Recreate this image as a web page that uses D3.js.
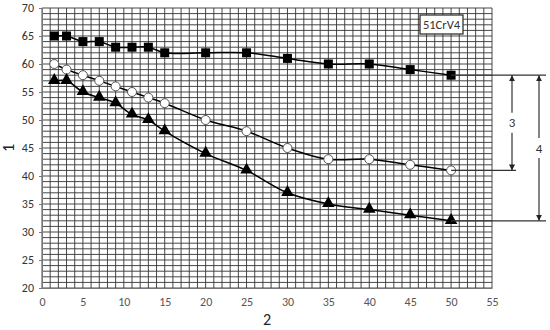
<!DOCTYPE html>
<html>
<head>
<meta charset="utf-8">
<script src="https://cdn.jsdelivr.net/npm/d3@7"></script>
<style>
  body { margin: 0; background: #fff; }
  text { font-family: Calibri, Carlito, "Open Sans", sans-serif; }
</style>
</head>
<body>
<script>
var width = 550;
var height = 330;
var margin = {top: 8, right: 58, bottom: 42, left: 42};

// data
var xValues = [1.5, 3, 5, 7, 9, 11, 13, 15, 20, 25, 30, 35, 40, 45, 50];
var squares = [65, 65, 64, 64, 63, 63, 63, 62, 62, 62, 61, 60, 60, 59, 58];
var circles = [60, 59, 58, 57, 56, 55, 54, 53, 50, 48, 45, 43, 43, 42, 41];
var triangles = [57, 57, 55, 54, 53, 51, 50, 48, 44, 41, 37, 35, 34, 33, 32];
var xTicks = [0, 5, 10, 15, 20, 25, 30, 35, 40, 45, 50, 55];
var yTicks = [20, 25, 30, 35, 40, 45, 50, 55, 60, 65, 70];
var legendText = "51CrV4";

var svg = d3.select("body").append("svg")
  .attr("width", width)
  .attr("height", height);

var x = d3.scaleLinear().domain([0, 55]).range([margin.left, width - margin.right]);
var y = d3.scaleLinear().domain([20, 70]).range([height - margin.bottom, margin.top]);

// grid, one line per unit
var grid = svg.append("g").attr("stroke", "#333").attr("stroke-width", 0.9);
grid.selectAll(".vx").data(d3.range(0, 56))
  .enter().append("line")
  .attr("x1", d => x(d)).attr("x2", d => x(d))
  .attr("y1", y(20)).attr("y2", y(70));
grid.selectAll(".hy").data(d3.range(20, 71))
  .enter().append("line")
  .attr("x1", x(0)).attr("x2", x(55))
  .attr("y1", d => y(d)).attr("y2", d => y(d));

// axes
var xAxis = svg.append("g")
  .attr("transform", "translate(0," + y(20) + ")")
  .call(d3.axisBottom(x).tickValues(xTicks).tickSize(0).tickPadding(9));
var yAxis = svg.append("g")
  .attr("transform", "translate(" + x(0) + ",0)")
  .call(d3.axisLeft(y).tickValues(yTicks).tickSize(3).tickPadding(5));
[xAxis, yAxis].forEach(function (a) {
  a.select(".domain").attr("stroke", "#777");
  a.selectAll(".tick line").attr("stroke", "#777");
  a.selectAll("text").attr("font-size", 12).attr("fill", "#555");
});
yAxis.selectAll("text").attr("fill", "#333");

svg.append("text").attr("x", x(27.5)).attr("y", 325)
  .attr("text-anchor", "middle").attr("font-size", 16).attr("fill", "#222").text("2");
svg.append("text")
  .attr("transform", "translate(14," + y(45) + ") rotate(-90)")
  .attr("text-anchor", "middle").attr("font-size", 16).attr("fill", "#222").text("1");

// series
var line = d3.line()
  .x((d, i) => x(xValues[i]))
  .y(d => y(d))
  .curve(d3.curveCatmullRom.alpha(0.5));

[squares, circles, triangles].forEach(function (s) {
  svg.append("path").datum(s)
    .attr("d", line)
    .attr("fill", "none")
    .attr("stroke", "#000")
    .attr("stroke-width", 1.5);
});

svg.selectAll(".sq").data(squares).enter().append("rect")
  .attr("x", (d, i) => x(xValues[i]) - 4.5)
  .attr("y", d => y(d) - 4.5)
  .attr("width", 9).attr("height", 9)
  .attr("fill", "#000");

svg.selectAll(".ci").data(circles).enter().append("circle")
  .attr("cx", (d, i) => x(xValues[i]))
  .attr("cy", d => y(d))
  .attr("r", 4.5)
  .attr("fill", "#fff").attr("stroke", "#555").attr("stroke-width", 1);

var tri = d3.symbol().type(d3.symbolTriangle).size(68);
svg.selectAll(".tr").data(triangles).enter().append("path")
  .attr("d", tri)
  .attr("transform", (d, i) => "translate(" + x(xValues[i]) + "," + (y(d) - 0.5) + ")")
  .attr("fill", "#000");

// legend box
var lg = svg.append("g");
lg.append("rect").attr("x", 420).attr("y", 15).attr("width", 43).attr("height", 19)
  .attr("fill", "#fff").attr("stroke", "#333").attr("stroke-width", 1.3);
lg.append("text").attr("x", 441.5).attr("y", 29).attr("text-anchor", "middle")
  .attr("font-size", 12.5).attr("fill", "#333").text(legendText);

// dimension lines on the right
var last = xValues.length - 1;
var dim = svg.append("g").attr("stroke", "#333").attr("stroke-width", 1.2);
dim.append("line").attr("x1", x(xValues[last])).attr("x2", 546)
  .attr("y1", y(squares[last])).attr("y2", y(squares[last]));
dim.append("line").attr("x1", x(xValues[last])).attr("x2", 516)
  .attr("y1", y(circles[last])).attr("y2", y(circles[last]));
dim.append("line").attr("x1", x(xValues[last])).attr("x2", 546)
  .attr("y1", y(triangles[last])).attr("y2", y(triangles[last]));

var defs = svg.append("defs");
defs.append("marker").attr("id", "ah")
  .attr("viewBox", "0 0 10 10").attr("refX", 10).attr("refY", 5)
  .attr("markerWidth", 6).attr("markerHeight", 6).attr("orient", "auto-start-reverse")
  .attr("markerUnits", "userSpaceOnUse")
  .append("path").attr("d", "M0,0 L10,5 L0,10 z").attr("fill", "#222");

function dimArrow(xp, v1, v2, label) {
  var y1 = y(v1), y2 = y(v2), ym = (y1 + y2) / 2;
  dim.append("line").attr("x1", xp).attr("x2", xp).attr("y1", y1).attr("y2", ym - 10)
    .attr("marker-start", "url(#ah)");
  dim.append("line").attr("x1", xp).attr("x2", xp).attr("y1", ym + 10).attr("y2", y2)
    .attr("marker-end", "url(#ah)");
  svg.append("text").attr("x", xp).attr("y", ym + 4.5).attr("text-anchor", "middle")
    .attr("font-size", 13).attr("fill", "#333").text(label);
}
dimArrow(512, squares[last], circles[last], "3");
dimArrow(539, squares[last], triangles[last], "4");
</script>
</body>
</html>
